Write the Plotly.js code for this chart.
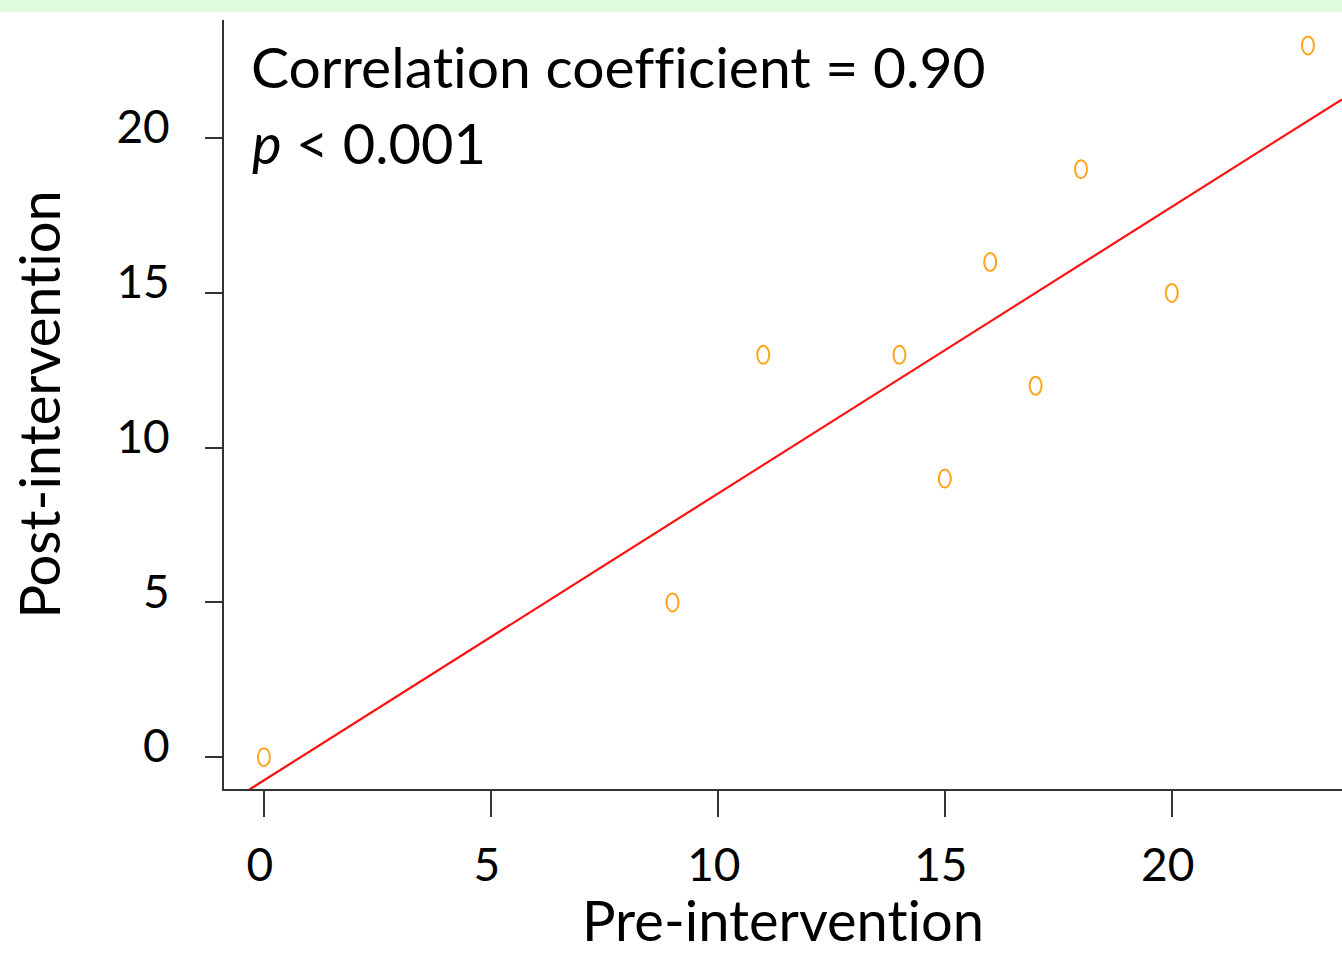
<!DOCTYPE html>
<html>
<head>
<meta charset="utf-8">
<script src="https://cdn.plot.ly/plotly-3.0.1.min.js"></script>
<style>
html,body{margin:0;padding:0;background:#fff;}
#chart{width:1342px;height:953px;}
#chart text{font-variant-ligatures:none;font-feature-settings:"liga" 0,"clig" 0;}
</style>
</head>
<body>
<div id="chart"></div>
<script>
// Data
const preIntervention = [0, 9, 11, 14, 15, 16, 17, 18, 20, 23];
const postIntervention = [0, 5, 13, 13, 9, 16, 12, 19, 15, 23];
const tickValues = [0, 5, 10, 15, 20];
const correlationText = "Correlation coefficient = 0.90";
const pValueText = "<i>p</i> &lt; 0.001";
const xAxisTitle = "Pre-intervention";
const yAxisTitle = "Post-intervention";

const xRange = [-0.88, 23.75];
const yRange = [-1.03, 23.82];

// Least-squares fit from the data
const n = preIntervention.length;
const mx = preIntervention.reduce((a, b) => a + b, 0) / n;
const my = postIntervention.reduce((a, b) => a + b, 0) / n;
let sxy = 0, sxx = 0;
for (let i = 0; i < n; i++) {
  sxy += (preIntervention[i] - mx) * (postIntervention[i] - my);
  sxx += (preIntervention[i] - mx) ** 2;
}
const slope = sxy / sxx;
const intercept = my - slope * mx;
const fitX = [xRange[0], xRange[1]];
const fitY = fitX.map(x => intercept + slope * x);

const FONT = "Lato, 'Open Sans', sans-serif";
const ORANGE = "#ffa31a";

const traces = [
  {
    x: fitX, y: fitY, type: "scatter", mode: "lines",
    line: {color: "#ff1010", width: 2.2},
    hoverinfo: "skip", showlegend: false
  },
  {
    x: preIntervention, y: postIntervention, type: "scatter", mode: "markers",
    marker: {symbol: "circle-open", size: 12, color: ORANGE, opacity: 0},
    showlegend: false
  }
];

// Oval markers as pixel-sized shapes anchored at each data point
const shapes = preIntervention.map((x, i) => ({
  type: "circle", xref: "x", yref: "y",
  xsizemode: "pixel", ysizemode: "pixel",
  xanchor: x, yanchor: postIntervention[i],
  x0: -6, x1: 6, y0: -9, y1: 9,
  line: {color: ORANGE, width: 2},
  fillcolor: "rgba(0,0,0,0)"
}));
// light green band along the top edge
shapes.push({
  type: "rect", xref: "paper", yref: "paper",
  x0: -0.25, x1: 1.01, y0: 1.0104, y1: 1.03,
  line: {width: 0}, fillcolor: "#dcfcdc", layer: "below"
});

const axisCommon = {
  showgrid: false, zeroline: false,
  showline: true, linecolor: "#333", linewidth: 2,
  ticks: "outside", tickcolor: "#333", tickwidth: 2,
  tickmode: "array", tickvals: tickValues, ticktext: tickValues.map(String),
  tickfont: {family: FONT, size: 46, color: "#000"},
  fixedrange: true
};

const layout = {
  width: 1342, height: 953,
  margin: {l: 224, r: 0, t: 20, b: 164, pad: 0},
  paper_bgcolor: "#fff", plot_bgcolor: "#fff",
  font: {family: FONT, color: "#000"},
  showlegend: false,
  xaxis: Object.assign({}, axisCommon, {
    range: xRange, ticklen: 26, ticklabelstandoff: 9, ticklabelshift: -4,
    title: {text: xAxisTitle, font: {family: FONT, size: 56, color: "#000"}, standoff: 15}
  }),
  yaxis: Object.assign({}, axisCommon, {
    range: yRange, ticklen: 17, ticklabelstandoff: 26, ticklabelshift: -11,
    title: {text: yAxisTitle, font: {family: FONT, size: 56, color: "#000"}, standoff: 38}
  }),
  shapes: shapes,
  annotations: [
    {xref: "paper", yref: "paper", x: 0.0233, y: 0.940, xanchor: "left", yanchor: "middle",
     text: correlationText, showarrow: false, font: {family: FONT, size: 57, color: "#000"}},
    {xref: "paper", yref: "paper", x: 0.0233, y: 0.841, xanchor: "left", yanchor: "middle",
     text: pValueText, showarrow: false, font: {family: FONT, size: 56, color: "#000"}}
  ]
};

Plotly.newPlot("chart", traces, layout, {displayModeBar: false, staticPlot: false});
</script>
</body>
</html>
